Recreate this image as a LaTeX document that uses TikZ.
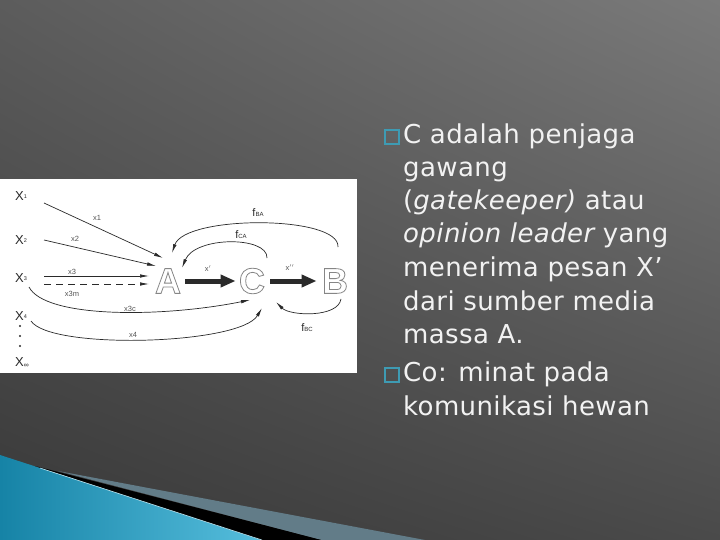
\documentclass[tikz,border=0pt]{standalone}
\usepackage{fontspec}
\setmainfont{DejaVu Sans}[LetterSpace=1.5]
\newfontfamily\lib{Liberation Sans}
\usetikzlibrary{arrows.meta,shadings}
\definecolor{bgUL}{HTML}{5C5C5C}
\definecolor{bgUR}{HTML}{7A7A7A}
\definecolor{bgLL}{HTML}{383838}
\definecolor{bgLR}{HTML}{4A4A4A}
\definecolor{swA}{HTML}{1683A6}
\definecolor{swB}{HTML}{56BEDD}
\definecolor{swG}{HTML}{627C88}
\definecolor{bul}{HTML}{3E9BB3}
\definecolor{ink}{HTML}{2A2A2A}
\definecolor{txt}{HTML}{F2F2F2}
\newcommand\outl[1]{\special{pdf:literal direct 1 Tr}#1\special{pdf:literal direct 0 Tr}}
\newcommand\sbx[1]{\raisebox{1.5pt}{\fontsize{5.5}{6}\selectfont #1}}
\newcommand\sbf[1]{{\fontsize{6}{6}\selectfont #1}}
\begin{document}
\begin{tikzpicture}[x=1pt,y=-1pt,
  conn/.style={draw=ink, line width=0.7pt, -{Latex[length=9pt,width=3.5pt]}},
  fat/.style={draw=ink, line width=5pt, -{Triangle[length=15pt,width=12pt]}},
  lbl/.style={font=\lib\fontsize{7.5}{8}\selectfont, text=ink!80, inner sep=0pt},
  flbl/.style={font=\lib\fontsize{11}{12}\selectfont, text=ink, inner sep=0pt},
  xlab/.style={font=\lib\fontsize{13}{14}\selectfont, text=ink, inner sep=0pt, anchor=west},
  bigletter/.style={font=\lib\bfseries\fontsize{36}{40}\selectfont, text=gray!95, line width=0.8pt, inner sep=0pt},
  txtline/.style={font=\fontsize{26}{30}\selectfont, text=txt, anchor=base west, inner sep=0pt},
  bulletbox/.style={draw=bul, line width=1.8pt, minimum size=13.5pt, inner sep=0pt}]
\useasboundingbox (0,0) rectangle (720,540);
% background
\shade[upper left=bgUL, upper right=bgUR, lower left=bgLL, lower right=bgLR] (0,0) rectangle (720,540);
% swoosh
\shade[left color=swA, right color=swB] (0,455) -- (262,540) -- (0,540) -- cycle;
\fill[black] (35,466) -- (322,540) -- (262,540) -- cycle;
\fill[swG] (58,471) -- (425,540) -- (322,540) -- cycle;
\draw[swB!40!white, line width=0.6pt] (40,468) -- (262,540);
% panel
\fill[white] (0,179) rectangle (357,373);
% source labels
\node[xlab] (X1) at (15,196) {X\sbx{1}};
\node[xlab] (X2) at (15,240) {X\sbx{2}};
\node[xlab] (X3) at (15,278) {X\sbx{3}};
\node[xlab] (X4) at (15,316) {X\sbx{4}};
\node[xlab] (Xinf) at (15,363) {X\raisebox{-1pt}{\fontsize{7}{7}\selectfont ∞}};
\fill[ink] (20,326) circle (1.2) (20,336) circle (1.2) (20,346) circle (1.2);
% main letters
\node[bigletter] (A) at (168,281) {\outl{A}};
\node[bigletter] (C) at (252,281) {\outl{C}};
\node[bigletter] (B) at (335,281) {\outl{B}};
% connector end points
\coordinate (s1) at (44,203); \coordinate (e1) at (163,258);
\coordinate (s2) at (44,240); \coordinate (e2) at (156,266);
\coordinate (s3) at (44,276); \coordinate (e3) at (149,276);
\coordinate (s3m) at (44,284); \coordinate (e3m) at (149,284);
\coordinate (s3c) at (29,287); \coordinate (e3c) at (250,300);
\coordinate (s4) at (31,321); \coordinate (e4) at (262,308);
\coordinate (sBA) at (338,247); \coordinate (eBA) at (172,253);
\coordinate (sCA) at (267,258); \coordinate (eCA) at (182,268);
\coordinate (sBC) at (341,299); \coordinate (eBC) at (276,302);
% arrows
\draw[conn] (s1) -- (e1);
\draw[conn] (s2) -- (e2);
\draw[conn] (s3) -- (e3);
\draw[conn, dash pattern=on 7pt off 5pt] (s3m) -- (e3m);
\draw[conn] (s3c) .. controls (45,318) and (160,318) .. (e3c);
\draw[conn] (s4) .. controls (50,350) and (240,345) .. (e4);
\draw[conn] (sBA) .. controls (340,215) and (185,215) .. (eBA);
\draw[conn] (sCA) .. controls (268,236) and (195,236) .. (eCA);
\draw[conn] (sBC) .. controls (338,318) and (290,316) .. (eBC);
\draw[fat] ([xshift=4pt]A.east) -- ([xshift=-3pt]C.west);
\draw[fat] ([xshift=5pt]C.east) -- ([xshift=-5pt]B.west);
% arrow labels
\node[lbl] (l1) at (97,218) {x1};
\node[lbl] (l2) at (75,239) {x2};
\node[lbl] (l3) at (72,272) {x3};
\node[lbl] (l3m) at (72,294) {x3m};
\node[lbl] (l3c) at (130,309) {x3c};
\node[lbl] (l4) at (133,335) {x4};
\node[lbl] (lp) at (208,269) {x$'$};
\node[lbl] (lpp) at (290,268) {x$''$};
\node[flbl] (fBA) at (258,213) {f\sbf{BA}};
\node[flbl] (fCA) at (241,235) {f\sbf{CA}};
\node[flbl] (fBC) at (307,328) {f\sbf{BC}};
% text
\node[bulletbox] (b1) at (392,137) {};
\node[txtline] (t1) at (403,144) {C adalah penjaga};
\node[txtline] (t2) at (403,177) {gawang};
\node[txtline] (t3) at (403,210) {({\itshape gatekeeper)} atau};
\node[txtline] (t4) at (403,243) {{\itshape opinion leader} yang};
\node[txtline] (t5) at (403,276) {menerima pesan X’};
\node[txtline] (t6) at (403,310) {dari sumber media};
\node[txtline] (t7) at (403,343) {massa A.};
\node[bulletbox] (b2) at (392,375) {};
\node[txtline] (t8) at (403,381) {Co: minat pada};
\node[txtline] (t9) at (403,415) {komunikasi hewan};
\end{tikzpicture}
\end{document}
